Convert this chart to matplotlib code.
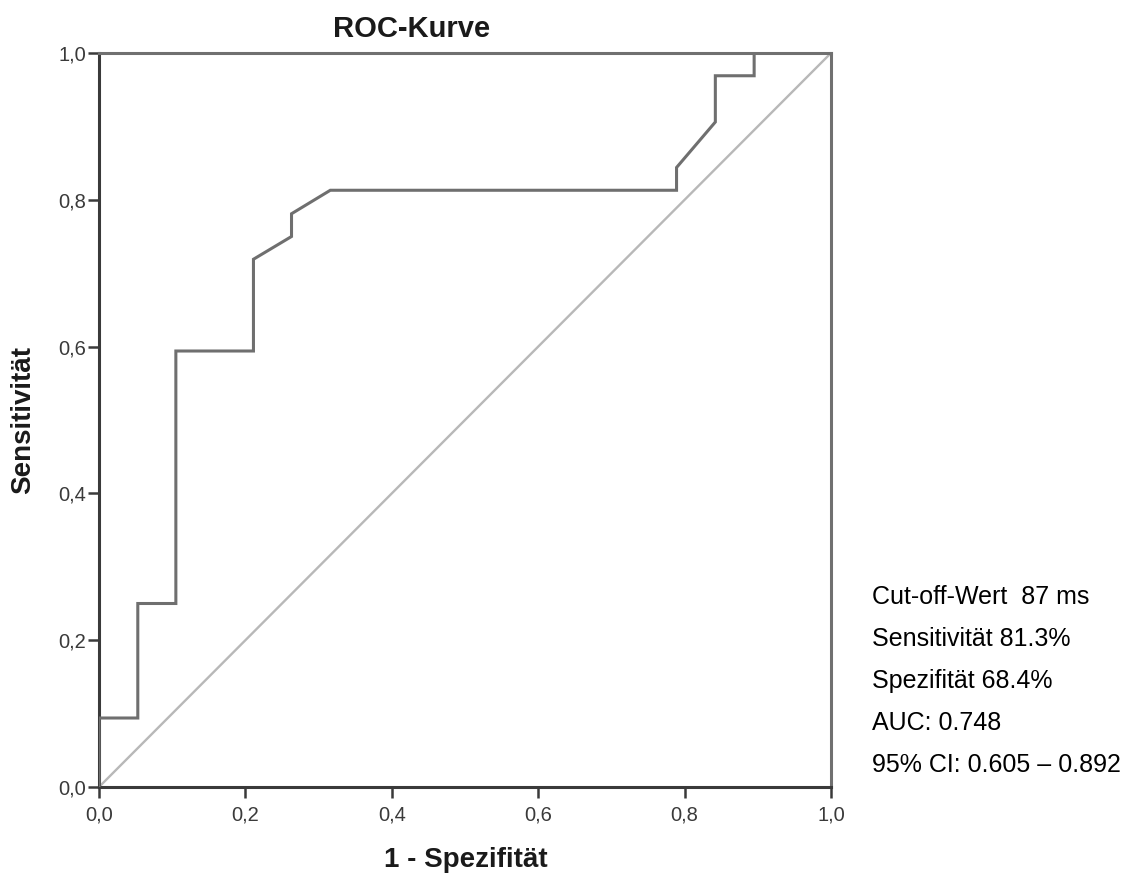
import matplotlib
matplotlib.use("Agg")
from matplotlib import pyplot as plt

plt.rcParams['font.family'] = ['Liberation Sans', 'DejaVu Sans']

# ROC curve points (1 - specificity, sensitivity)
fpr = [0.0, 0.0, 0.053, 0.053, 0.105, 0.105, 0.211, 0.211, 0.263, 0.263,
       0.316, 0.789, 0.789, 0.842, 0.842, 0.895, 0.895, 1.0]
tpr = [0.0, 0.094, 0.094, 0.25, 0.25, 0.594, 0.594, 0.719, 0.75, 0.781,
       0.813, 0.813, 0.844, 0.906, 0.969, 0.969, 1.0, 1.0]

ref_x = [0.0, 1.0]
ref_y = [0.0, 1.0]

tick_values = [0.0, 0.2, 0.4, 0.6, 0.8, 1.0]
tick_labels = ['0,0', '0,2', '0,4', '0,6', '0,8', '1,0']

info_lines = ['Cut-off-Wert  87 ms', 'Sensitivität 81.3%', 'Spezifität 68.4%',
              'AUC: 0.748', '95% CI: 0.605 – 0.892']

fig = plt.figure(figsize=(11.45, 8.75), dpi=100)
ax = fig.add_axes([99 / 1145, 88 / 875, 732 / 1145, 734 / 875])

ax.plot(ref_x, ref_y, color='#b8b8b8', lw=1.7, zorder=2)
ax.plot(fpr, tpr, color='#6f6f6f', lw=2.2, zorder=3, solid_joinstyle='miter')

ax.set_xlim(0, 1)
ax.set_ylim(0, 1)
ax.set_xticks(tick_values)
ax.set_xticklabels(tick_labels)
ax.set_yticks(tick_values)
ax.set_yticklabels(tick_labels)

for side in ['left', 'bottom']:
    ax.spines[side].set_color('#3a3a3a')
    ax.spines[side].set_linewidth(2.2)
for side in ['top', 'right']:
    ax.spines[side].set_color('#707070')
    ax.spines[side].set_linewidth(2.2)
ax.spines['top'].set_zorder(4)

ax.tick_params(axis='both', labelsize=14.5, colors='#3a3a3a', length=8, width=1.8)
ax.tick_params(axis='x', pad=5)
ax.tick_params(axis='y', pad=1.5)

fig.text(412 / 1145, 1 - 29 / 875, 'ROC-Kurve', ha='center', va='center',
         fontsize=21, fontweight='bold', color='#1a1a1a')
fig.text(466 / 1145, 1 - 860 / 875, '1 - Spezifität', ha='center', va='center',
         fontsize=20, fontweight='bold', color='#1a1a1a')
fig.text(23 / 1145, 1 - 420 / 875, 'Sensitivität', ha='center', va='center',
         rotation=90, fontsize=20, fontweight='bold', color='#1a1a1a')

line_y = [597, 639, 681, 723, 765]
for txt, yy in zip(info_lines, line_y):
    fig.text(872 / 1145, 1 - yy / 875, txt, ha='left', va='center',
             fontsize=18, color='black')

fig.savefig('out.png', dpi=100, facecolor='white')
